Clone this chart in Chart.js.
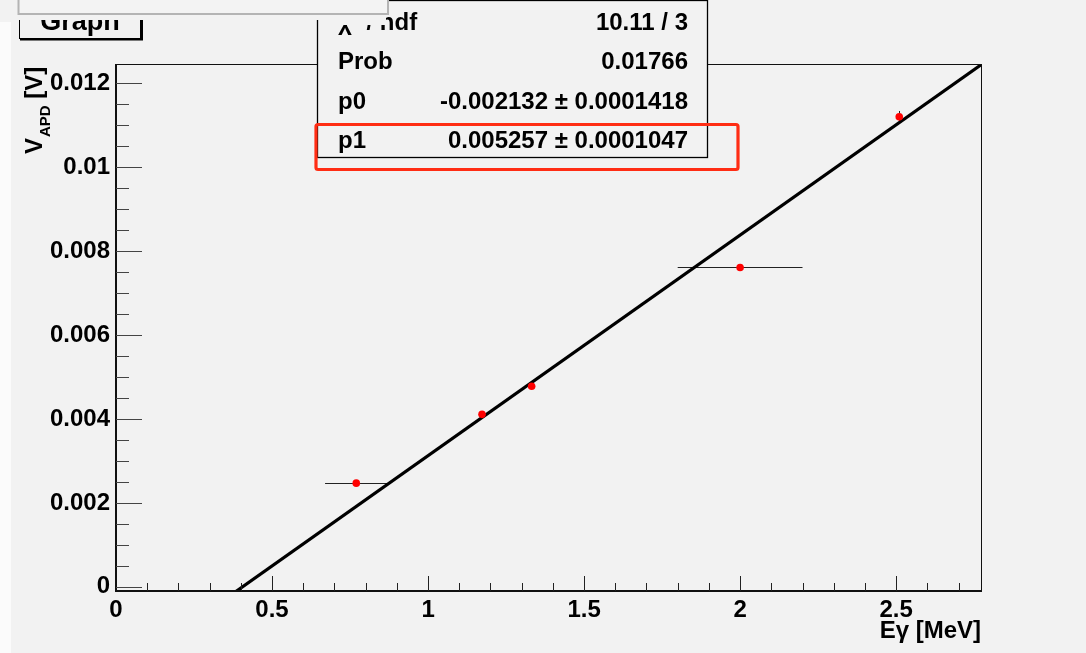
<!DOCTYPE html>
<html>
<head>
<meta charset="utf-8">
<script src="https://cdn.jsdelivr.net/npm/chart.js@4/dist/chart.umd.min.js"></script>
<style>
  html, body { margin: 0; padding: 0; background: #f2f2f2; }
  #wrap { width: 1086px; height: 653px; position: relative; }
</style>
</head>
<body>
<div id="wrap"><canvas id="c" width="1086" height="653"></canvas></div>
<script>
// Measured APD output versus gamma energy
const energies = [0.77, 1.173, 1.332, 2.0, 2.51];          // MeV
const energyErrors = [0.1, 0, 0, 0.2, 0];                   // MeV
const voltages = [0.00247, 0.00411, 0.00478, 0.00761, 0.01120]; // V
const voltageErrors = [0, 0, 0, 0, 0.00014];                // V

// Axis ticks and ranges
const xTickValues = [0, 0.5, 1, 1.5, 2, 2.5];
const yTickValues = [0, 0.002, 0.004, 0.006, 0.008, 0.01, 0.012];
const xRange = [0, 2.772];
const yRange = [-0.0001, 0.01246];

// Linear fit result  V = p0 + p1 * E
const fitP0 = -0.002132, fitP0Err = 0.0001418;
const fitP1 = 0.005257, fitP1Err = 0.0001047;
const chi2 = 10.11, ndf = 3, prob = 0.01766;

const FONT = '"Liberation Sans", Arimo, Helvetica, Arial, sans-serif';
const BG = '#f2f2f2';

const points = energies.map((e, i) => ({ x: e, y: voltages[i] }));
const fitLine = xRange.map(e => ({ x: e, y: fitP0 + fitP1 * e }));

const decorations = {
  id: 'decorations',
  beforeDraw(chart) {
    const ctx = chart.ctx;
    ctx.save();
    ctx.fillStyle = BG;
    ctx.fillRect(0, 0, chart.width, chart.height);
    ctx.fillStyle = '#fbfbfb';
    ctx.fillRect(0, 22, 11, chart.height - 22);
    ctx.restore();
  },
  beforeDatasetsDraw(chart) {
    // error bars
    const ctx = chart.ctx, xs = chart.scales.x, ys = chart.scales.y;
    ctx.save();
    ctx.strokeStyle = '#222';
    ctx.lineWidth = 1;
    energies.forEach((e, i) => {
      const py = Math.round(ys.getPixelForValue(voltages[i])) + 0.5;
      const px = Math.round(xs.getPixelForValue(e)) + 0.5;
      if (energyErrors[i] > 0) {
        ctx.beginPath();
        ctx.moveTo(xs.getPixelForValue(e - energyErrors[i]), py);
        ctx.lineTo(xs.getPixelForValue(e + energyErrors[i]), py);
        ctx.stroke();
      }
      if (voltageErrors[i] > 0) {
        ctx.beginPath();
        ctx.moveTo(px, ys.getPixelForValue(voltages[i] - voltageErrors[i]));
        ctx.lineTo(px, ys.getPixelForValue(voltages[i] + voltageErrors[i]));
        ctx.stroke();
      }
    });
    ctx.restore();
  },
  afterDatasetsDraw(chart) {
    const ctx = chart.ctx, xs = chart.scales.x, ys = chart.scales.y;
    const a = chart.chartArea;
    ctx.save();
    // frame
    ctx.strokeStyle = '#111';
    ctx.lineWidth = 1;
    ctx.strokeRect(Math.round(a.left) + 0.5, Math.round(a.top) + 0.5,
                   Math.round(a.right - a.left), Math.round(a.bottom - a.top));
    ctx.lineWidth = 2;
    ctx.beginPath();
    ctx.moveTo(a.left, a.top);
    ctx.lineTo(a.left, a.bottom);
    ctx.lineTo(a.right, a.bottom);
    ctx.stroke();

    // y ticks (inward)
    ctx.lineWidth = 1;
    ctx.strokeStyle = '#444';
    const yStep = (yTickValues[1] - yTickValues[0]) / 4;
    const nY = Math.round((yTickValues[yTickValues.length - 1] - yTickValues[0]) / yStep);
    for (let k = 0; k <= nY; k++) {
      const v = yTickValues[0] + k * yStep;
      const py = Math.round(ys.getPixelForValue(v)) + 0.5;
      const len = (k % 4 === 0) ? 26 : 13;
      ctx.beginPath();
      ctx.moveTo(a.left, py);
      ctx.lineTo(a.left + len, py);
      ctx.stroke();
    }
    // x ticks (inward)
    ctx.strokeStyle = '#222';
    const xStep = (xTickValues[1] - xTickValues[0]) / 5;
    for (let k = 0; ; k++) {
      const v = xTickValues[0] + k * xStep;
      if (v > xRange[1]) break;
      if (k === 0) continue;
      const px = Math.round(xs.getPixelForValue(v)) + 0.5;
      const len = (k % 5 === 0) ? 15 : 8;
      ctx.beginPath();
      ctx.moveTo(px, a.bottom);
      ctx.lineTo(px, a.bottom - len);
      ctx.stroke();
    }
    ctx.restore();
  },
  afterDraw(chart) {
    const ctx = chart.ctx;
    const a = chart.chartArea;
    ctx.save();
    ctx.fillStyle = '#000';

    // x axis title
    ctx.font = 'bold 24px ' + FONT;
    ctx.textAlign = 'right';
    ctx.textBaseline = 'alphabetic';
    ctx.fillText('E\u03b3 [MeV]', a.right, 638);

    // y axis title with subscript
    ctx.save();
    ctx.translate(42, 154);
    ctx.rotate(-Math.PI / 2);
    ctx.textAlign = 'left';
    ctx.font = 'bold 24px ' + FONT;
    ctx.fillText('V', 0, 0);
    let off = ctx.measureText('V').width;
    ctx.font = 'bold 15px ' + FONT;
    ctx.fillText('APD', off + 1, 8);
    off += 1 + ctx.measureText('APD').width;
    ctx.font = 'bold 24px ' + FONT;
    ctx.fillText(' [V]', off, 0);
    ctx.restore();

    // fit statistics box
    const bx = 317.5, by = 0.5, bw = 390, bh = 157;
    ctx.fillStyle = BG;
    ctx.fillRect(bx, by, bw, bh);
    ctx.strokeStyle = '#000';
    ctx.lineWidth = 1.3;
    ctx.strokeRect(bx, by, bw, bh);
    const rows = [
      ['\u03c7\u00b2 / ndf', chi2 + ' / ' + ndf],
      ['Prob', String(prob)],
      ['p0', fitP0 + ' \u00b1 ' + fitP0Err],
      ['p1', fitP1 + ' \u00b1 ' + fitP1Err]
    ];
    ctx.fillStyle = '#000';
    ctx.font = 'bold 24px ' + FONT;
    rows.forEach((r, i) => {
      const yb = 29.5 + i * 39.5;
      ctx.textAlign = 'left';
      ctx.fillText(r[0], 338, yb);
      ctx.textAlign = 'right';
      ctx.fillText(r[1], 688, yb);
    });

    // highlight around the slope row
    ctx.strokeStyle = 'rgb(255,45,20)';
    ctx.lineWidth = 3.2;
    ctx.beginPath();
    ctx.roundRect(316, 124.5, 422, 45, 2);
    ctx.stroke();

    // graph title box
    ctx.fillStyle = BG;
    ctx.fillRect(19, 0, 122, 39);
    ctx.fillStyle = '#000';
    ctx.font = 'bold 27px ' + FONT;
    ctx.textAlign = 'center';
    ctx.fillText('Graph', 80, 30);
    ctx.strokeStyle = '#000';
    ctx.lineWidth = 1;
    ctx.strokeRect(19.5, -2, 121, 40.5);
    ctx.lineWidth = 2;
    ctx.beginPath();
    ctx.moveTo(20, 39.5);
    ctx.lineTo(142, 39.5);
    ctx.lineTo(142, 0);
    ctx.stroke();

    // unpainted strip along the top
    ctx.fillStyle = BG;
    ctx.fillRect(11, 0, 320, 20);
    ctx.fillRect(331, 0, 55, 25);

    // floating panel edge at the top
    ctx.fillStyle = '#f3f3f3';
    ctx.fillRect(18, 0, 370, 14);
    ctx.strokeStyle = '#b4b4b4';
    ctx.lineWidth = 2;
    ctx.beginPath();
    ctx.moveTo(18.5, 0);
    ctx.lineTo(18.5, 14);
    ctx.lineTo(388, 14);
    ctx.lineTo(388, 0);
    ctx.stroke();
    ctx.restore();
  }
};

new Chart(document.getElementById('c'), {
  data: {
    datasets: [
      {
        type: 'scatter',
        label: 'data',
        data: points,
        order: 0,
        pointRadius: 3.8,
        pointHoverRadius: 3.8,
        pointBackgroundColor: '#ff0000',
        pointBorderWidth: 0,
        borderWidth: 0
      },
      {
        type: 'line',
        label: 'fit',
        data: fitLine,
        order: 1,
        borderColor: '#000',
        borderWidth: 3.2,
        pointRadius: 0,
        fill: false,
        tension: 0
      }
    ]
  },
  options: {
    responsive: false,
    animation: false,
    devicePixelRatio: 1,
    events: [],
    layout: { padding: { left: 0, right: 105, top: 64, bottom: 0 } },
    plugins: { legend: { display: false }, tooltip: { enabled: false }, title: { display: false } },
    scales: {
      x: {
        type: 'linear',
        position: 'bottom',
        min: xRange[0],
        max: xRange[1],
        afterBuildTicks: s => { s.ticks = xTickValues.map(v => ({ value: v })); },
        afterFit: s => { s.height = 62; },
        grid: { display: false, drawTicks: false },
        border: { display: false },
        ticks: {
          color: '#000',
          padding: 5,
          maxRotation: 0,
          autoSkip: false,
          font: { family: FONT, size: 24, weight: 'bold' },
          callback: v => String(v)
        }
      },
      y: {
        type: 'linear',
        position: 'left',
        min: yRange[0],
        max: yRange[1],
        afterBuildTicks: s => { s.ticks = yTickValues.map(v => ({ value: v })); },
        afterFit: s => { s.width = 116; },
        grid: { display: false, drawTicks: false },
        border: { display: false },
        ticks: {
          color: '#000',
          padding: 6,
          autoSkip: false,
          font: { family: FONT, size: 24, weight: 'bold' },
          callback: v => String(v)
        }
      }
    }
  },
  plugins: [decorations]
});
</script>
</body>
</html>
